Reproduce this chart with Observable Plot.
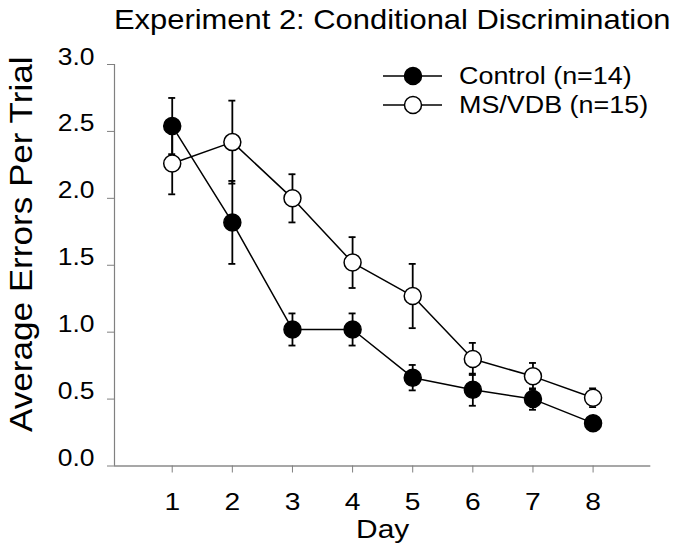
<!DOCTYPE html>
<html>
<head>
<meta charset="utf-8">
<script src="https://cdn.jsdelivr.net/npm/d3@7"></script>
<script src="https://cdn.jsdelivr.net/npm/@observablehq/plot@0.6"></script>
<style>
  html, body { margin: 0; padding: 0; background: white; }
  #title { height: 44px; line-height: 40px; font-family: "Liberation Sans", Arial, sans-serif; font-size: 27.6px; color: black; white-space: nowrap; overflow: visible; }
  #title span { display: inline-block; margin-left: 114px; transform: scaleX(1.12); transform-origin: left center; }
</style>
</head>
<body>
<div id="title"><span>Experiment 2: Conditional Discrimination</span></div>
<div id="chart"></div>
<script>
const days = [1, 2, 3, 4, 5, 6, 7, 8];
const seriesNames = ["Control (n=14)", "MS/VDB (n=15)"];
const controlMean = [2.54, 1.82, 1.02, 1.02, 0.66, 0.57, 0.50, 0.32];
const controlSE   = [0.21, 0.31, 0.12, 0.12, 0.095, 0.12, 0.08, 0.03];
const msMean      = [2.26, 2.42, 2.00, 1.52, 1.27, 0.80, 0.67, 0.51];
const msSE        = [0.23, 0.31, 0.18, 0.19, 0.24, 0.12, 0.10, 0.07];
const yTicks = [0, 0.5, 1.0, 1.5, 2.0, 2.5, 3.0];
const xTicks = days;
const xDomain = [0.04, 8.96];
const yDomain = [0, 3];
const xLabel = "Day";
const yLabel = "Average Errors Per Trial";

const controlData = days.map((d, i) => ({day: d, series: seriesNames[0], mean: controlMean[i], se: controlSE[i]}));
const msData = days.map((d, i) => ({day: d, series: seriesNames[1], mean: msMean[i], se: msSE[i]}));
const allData = controlData.concat(msData);
const cap = 0.058; // half cap width in days
const SX = 1.15;
const font = "'Liberation Sans', Arial, sans-serif";

const plot = Plot.plot({
  width: 674,
  height: 510,
  marginLeft: 114,
  marginRight: 23.7,
  marginTop: 20,
  marginBottom: 88.5,
  x: {domain: xDomain},
  y: {domain: yDomain},
  style: {fontFamily: font, background: "white", overflow: "visible", color: "black"},
  marks: [
    Plot.ruleX([xDomain[0]], {stroke: "#808080", strokeWidth: 1.2}),
    Plot.ruleY([yDomain[0]], {stroke: "#505050", strokeWidth: 1.2}),
    Plot.axisY({ticks: yTicks, tickFormat: d3.format(".1f"), tickSize: 7, tickPadding: 13, fontSize: 23, stroke: "#808080", fill: "black", label: null}),
    Plot.axisX({ticks: xTicks, tickFormat: d3.format("d"), tickSize: 7, tickPadding: 37, fontSize: 24.5, stroke: "#808080", fill: "black", label: null}),
    Plot.ruleX(allData, {x: "day", y1: d => d.mean - d.se, y2: d => d.mean + d.se, stroke: "black", strokeWidth: 1.8}),
    Plot.ruleY(allData, {y: d => d.mean + d.se, x1: d => d.day - cap, x2: d => d.day + cap, stroke: "black", strokeWidth: 1.8}),
    Plot.ruleY(allData, {y: d => d.mean - d.se, x1: d => d.day - cap, x2: d => d.day + cap, stroke: "black", strokeWidth: 1.8}),
    Plot.line(controlData, {x: "day", y: "mean", stroke: "black", strokeWidth: 1.5}),
    Plot.line(msData, {x: "day", y: "mean", stroke: "black", strokeWidth: 1.5}),
    Plot.dot(controlData, {x: "day", y: "mean", r: 8.5, fill: "black", stroke: "black", strokeWidth: 1.5}),
    Plot.dot(msData, {x: "day", y: "mean", r: 8.5, fill: "white", stroke: "black", strokeWidth: 1.5}),
    Plot.text([xLabel], {frameAnchor: "bottom", textAnchor: "middle", lineAnchor: "middle", dy: 71.5, fontSize: 26, fill: "black"}),
    Plot.text([yLabel], {frameAnchor: "left", textAnchor: "middle", lineAnchor: "middle", rotate: -90, dx: -83, dy: -21, fontSize: 30.5, fill: "black"})
  ]
});

// Legend
const svg = d3.select(plot);
const legend = svg.append("g").attr("class", "legend");
const legendFills = ["black", "white"];
const legendY = [32, 61];
seriesNames.forEach((name, i) => {
  const g = legend.append("g").attr("transform", `translate(0,${legendY[i]})`);
  g.append("line").attr("x1", 383).attr("x2", 442).attr("y1", 0).attr("y2", 0).attr("stroke", "black").attr("stroke-width", 1.5);
  g.append("circle").attr("cx", 413).attr("cy", 0).attr("r", 8.5).attr("fill", legendFills[i]).attr("stroke", "black").attr("stroke-width", 1.5);
  g.append("text").attr("x", 459).attr("y", 0).attr("dy", "0.35em").attr("text-anchor", "start").attr("font-size", 23.4).attr("fill", "black").attr("font-family", font).text(name);
});

// Horizontal stretch of text to match the reference's wider lettering
svg.selectAll("text").each(function() {
  const t = d3.select(this);
  const x = +t.attr("x") || 0, y = +t.attr("y") || 0;
  const tr = t.attr("transform") || "";
  t.attr("x", null).attr("y", null).attr("transform", `${tr} translate(${x},${y}) scale(${SX},1)`.trim());
});

document.getElementById("chart").appendChild(plot);
</script>
</body>
</html>
